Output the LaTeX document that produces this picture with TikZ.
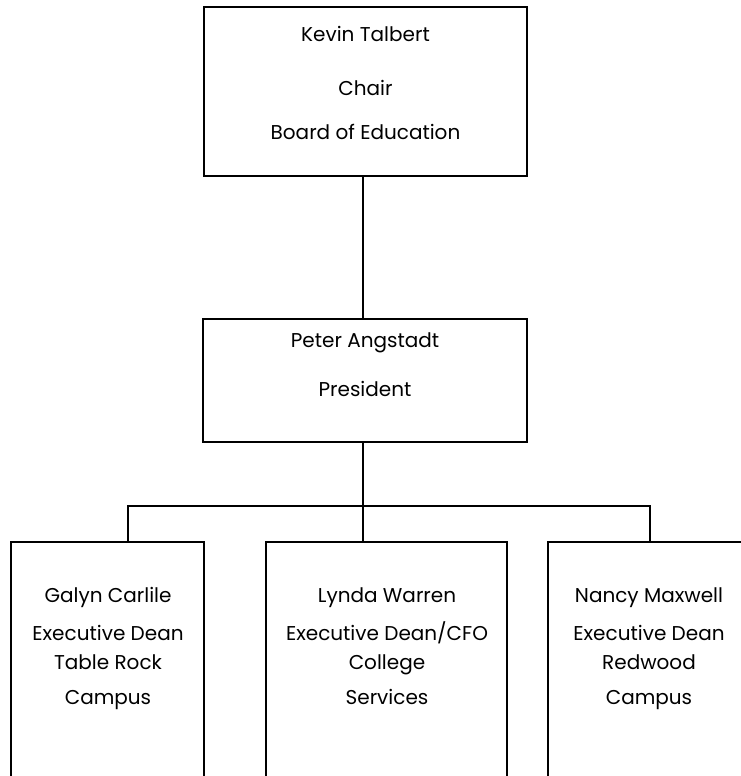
\documentclass[tikz,border=0pt]{standalone}
\usepackage{fontspec}
\setmainfont{Poppins}
\begin{document}
\begin{tikzpicture}[x=1pt,y=1pt,
  box/.style={draw=black,line width=1.3pt,fill=none,inner sep=0pt,outer sep=0pt,anchor=north west},
  lbl/.style={anchor=base,inner sep=0pt,font=\fontsize{20}{24}\selectfont},
  wire/.style={draw=black,line width=1.3pt}]
\useasboundingbox (0,0) rectangle (740,776);
% boxes
\node[box,minimum width=323pt,minimum height=169pt] (top) at (204,769) {};
\node[box,minimum width=324pt,minimum height=123pt] (mid) at (203,457) {};
\node[box,minimum width=193pt,minimum height=260pt] (lb) at (11,234) {};
\node[box,minimum width=241pt,minimum height=260pt] (cb) at (266,234) {};
\node[box,minimum width=202pt,minimum height=260pt] (rb) at (548,234) {};
% junction coordinates
\coordinate (jc) at (363,270);
\coordinate (jl) at (128,270);
\coordinate (jr) at (650,270);
% connectors
\draw[wire] (top.south -| jc) -- (mid.north -| jc);
\draw[wire] (mid.south -| jc) -- (jc);
\draw[wire] (jl |- lb.north) -- (jl) -- (jr) -- (jr |- rb.north);
\draw[wire] (jc) -- (cb.north -| jc);
% texts
\node[lbl] (t1) at (365.5,734) {Kevin Talbert};
\node[lbl] (t2) at (365.5,680) {Chair};
\node[lbl] (t3) at (365.5,636) {Board of Education};
\node[lbl] (m1) at (365,428) {Peter Angstadt};
\node[lbl] (m2) at (365,379) {President};
\node[lbl] (l1) at (108,173) {Galyn Carlile};
\node[lbl] (l2) at (108,135) {Executive Dean};
\node[lbl] (l3) at (108,106) {Table Rock};
\node[lbl] (l4) at (108,71) {Campus};
\node[lbl] (c1) at (387,173) {Lynda Warren};
\node[lbl] (c2) at (387,135) {Executive Dean/CFO};
\node[lbl] (c3) at (387,106) {College};
\node[lbl] (c4) at (387,71) {Services};
\node[lbl] (r1) at (649,173) {Nancy Maxwell};
\node[lbl] (r2) at (649,135) {Executive Dean};
\node[lbl] (r3) at (649,106) {Redwood};
\node[lbl] (r4) at (649,71) {Campus};
\end{tikzpicture}
\end{document}
